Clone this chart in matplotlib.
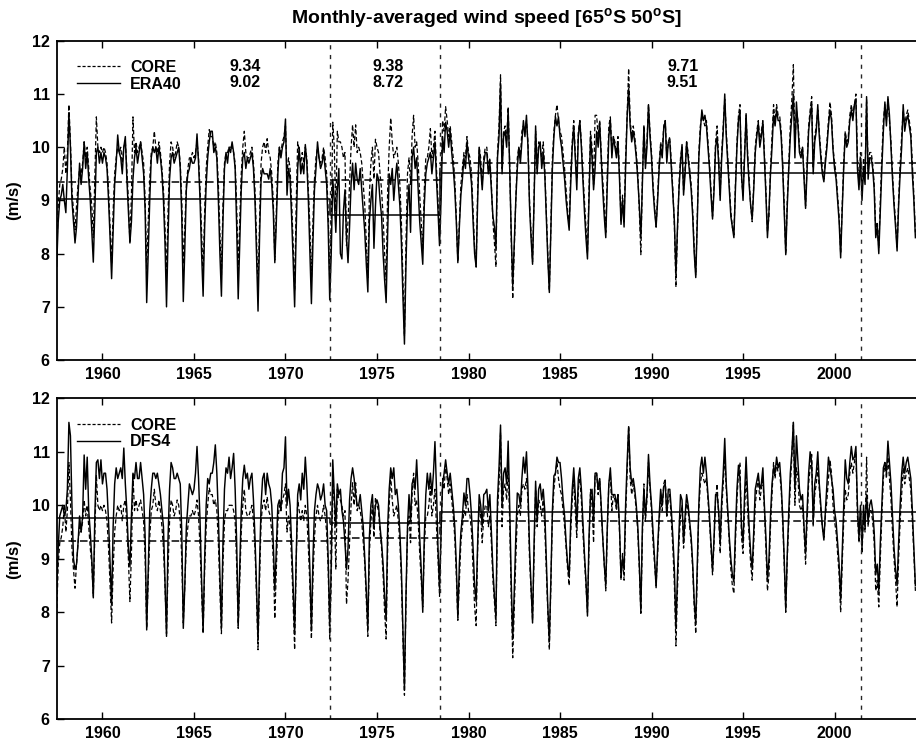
import numpy as np
import matplotlib
matplotlib.use("Agg")
import matplotlib.pyplot as plt
from matplotlib.lines import Line2D

plt.rcParams['font.family'] = ['Liberation Sans', 'DejaVu Sans']
plt.rcParams['font.weight'] = 'bold'
plt.rcParams['mathtext.fontset'] = 'custom'
plt.rcParams['mathtext.rm'] = 'Liberation Sans:bold'
plt.rcParams['mathtext.bf'] = 'Liberation Sans:bold'

# monthly series, first value at 1957.5 (Jul 1957), one row per calendar year
start_year = 1957.5
core = [
    7.95, 8.9, 9.3, 9.4, 9.6, 10.0,
    9.5, 9.9, 10.8, 10.1, 9.2, 8.8, 8.45, 8.9, 9.3, 9.6, 9.5, 9.7,
    10.1, 9.8, 10.0, 9.6, 9.2, 8.9, 8.3, 9.4, 10.57, 10.0, 9.9, 10.0,
    9.9, 10.0, 9.9, 9.7, 9.2, 8.5, 7.8, 8.8, 9.5, 9.8, 10.0, 9.9,
    10.0, 9.7, 10.0, 10.1, 9.6, 9.0, 8.2, 9.1, 10.57, 9.9, 10.1, 9.9,
    10.0, 10.1, 9.9, 9.7, 9.0, 7.7, 8.6, 9.4, 9.9, 10.0, 10.3, 10.0,
    9.9, 10.1, 9.9, 9.6, 9.2, 8.5, 7.6, 8.8, 9.7, 10.1, 10.0, 9.8,
    9.9, 10.1, 10.0, 9.7, 9.0, 7.8, 8.5, 9.3, 9.6, 9.8, 9.8, 9.9,
    9.8, 9.9, 10.1, 9.8, 9.2, 8.4, 7.6, 8.8, 9.6, 10.0, 10.33, 10.2,
    10.2, 10.0, 10.1, 9.9, 9.3, 8.4, 7.6, 8.9, 9.7, 9.9, 9.9, 10.0,
    10.0, 10.0, 9.9, 9.7, 8.9, 7.7, 8.6, 9.5, 10.0, 10.3, 9.9, 9.8,
    9.8, 9.9, 10.0, 9.7, 9.2, 8.3, 7.3, 8.6, 9.7, 10.0, 10.1, 9.9,
    10.16, 9.9, 9.8, 9.5, 9.0, 7.88, 8.8, 9.7, 10.0, 9.9, 10.1, 10.2,
    10.4, 9.5, 9.8, 9.6, 9.0, 8.2, 7.3, 8.9, 10.1, 9.9, 9.7, 9.9,
    9.7, 10.0, 9.8, 9.2, 8.5, 7.5, 8.6, 9.4, 9.8, 10.0, 9.8, 9.7,
    9.8, 10.0, 9.8, 9.5, 8.8, 7.5, 8.6, 10.47, 10.0, 8.8, 10.3, 10.1,
    10.1, 10.0, 9.8, 9.9, 8.15, 8.6, 9.3, 10.0, 10.42, 10.0, 10.42, 9.9,
    10.0, 9.9, 9.7, 9.3, 8.9, 8.2, 7.55, 9.1, 9.7, 10.0, 9.4, 10.15,
    10.0, 9.9, 9.5, 9.2, 8.7, 8.0, 7.5, 9.2, 10.0, 10.55, 10.1, 9.8,
    9.9, 10.0, 9.7, 9.3, 8.6, 7.5, 6.45, 8.2, 9.5, 9.8, 9.3, 10.2,
    10.6, 10.0, 10.1, 9.7, 9.1, 8.6, 8.1, 9.2, 9.8, 9.8, 10.0, 10.35,
    9.8, 10.0, 10.3, 9.6, 9.0, 8.3, 9.4, 10.5, 10.3, 10.76, 10.5, 10.2,
    10.4, 10.1, 9.8, 9.4, 8.7, 7.85, 8.6, 9.3, 9.6, 9.9, 9.8, 10.2,
    9.9, 9.8, 9.5, 8.8, 8.1, 7.75, 9.2, 10.0, 9.8, 9.3, 9.8, 10.0,
    10.0, 9.6, 9.8, 9.3, 8.6, 8.2, 7.75, 9.9, 10.4, 11.36, 9.6, 10.3,
    10.4, 10.1, 10.76, 9.7, 8.3, 7.15, 8.1, 9.0, 9.8, 10.0, 9.8, 10.3,
    10.4, 10.3, 10.5, 10.1, 9.0, 8.4, 7.85, 9.1, 10.3, 9.6, 10.1, 10.0,
    9.8, 10.1, 9.6, 8.8, 8.0, 7.3, 8.5, 9.8, 10.3, 10.6, 10.8, 10.5,
    10.3, 10.2, 9.9, 9.6, 9.2, 8.8, 8.5, 9.5, 10.1, 10.5, 9.9, 9.4,
    10.3, 10.5, 10.1, 9.5, 9.0, 8.5, 8.0, 9.2, 10.3, 10.0, 9.3, 10.6,
    10.6, 10.2, 10.5, 9.9, 9.4, 8.9, 8.4, 9.5, 10.4, 10.57, 9.9, 10.2,
    10.1, 9.9, 10.2, 9.5, 8.6, 9.1, 8.6, 9.8, 10.6, 11.48, 10.5, 10.2,
    10.4, 10.2, 9.9, 9.5, 8.8, 7.98, 9.4, 10.4, 9.7, 10.1, 10.8, 10.3,
    9.9, 9.3, 8.9, 8.5, 9.1, 9.7, 10.1, 9.9, 10.4, 10.5, 9.8, 10.1,
    10.2, 9.7, 9.2, 8.5, 7.37, 8.4, 9.3, 9.8, 10.0, 9.2, 9.6, 10.1,
    9.9, 9.6, 9.3, 8.8, 8.1, 7.6, 8.7, 9.9, 10.4, 10.6, 10.5, 10.4,
    10.5, 10.1, 9.7, 9.2, 8.7, 9.3, 10.1, 10.4, 9.8, 9.1, 9.9, 10.4,
    10.9, 10.3, 9.8, 9.3, 8.8, 8.5, 8.35, 9.3, 10.1, 10.6, 10.8, 9.4,
    9.1, 9.9, 10.6, 9.9, 9.4, 8.9, 8.6, 9.3, 10.0, 10.3, 10.5, 10.1,
    10.3, 10.5, 9.9, 9.2, 8.4, 8.7, 9.6, 10.2, 10.8, 10.5, 10.8, 10.6,
    10.6, 10.3, 9.7, 8.9, 8.0, 9.0, 9.7, 10.4, 10.9, 11.55, 10.0, 10.7,
    10.5, 10.0, 9.9, 10.0, 9.5, 8.9, 9.7, 10.4, 10.7, 10.95, 9.6, 10.2,
    10.4, 10.7, 10.3, 9.9, 9.6, 9.4, 9.8, 10.1, 10.5, 10.85, 10.6, 10.0,
    9.7, 9.5, 9.1, 8.7, 8.0, 8.9, 9.7, 10.3, 10.1, 10.2, 10.6, 10.8,
    10.6, 10.8, 11.0, 9.8, 9.3, 9.9, 9.1, 9.8, 9.5, 10.9, 9.6, 9.9,
    9.9, 9.7, 9.3, 8.4, 8.6, 8.1, 9.0, 9.8, 10.5, 10.8, 10.5, 10.9,
    10.5, 10.1, 9.5, 9.0, 8.6, 8.1, 9.0, 9.7, 10.2, 10.7, 10.4, 10.6,
    10.7, 10.5, 10.3, 9.7, 9.1, 8.4,
]
era40 = [
    7.76, 8.6, 9.0, 9.1, 9.3, 9.0,
    8.77, 9.6, 10.65, 10.0, 9.0, 8.6, 8.2, 8.5, 9.1, 9.7, 9.3, 9.6,
    10.1, 9.6, 9.9, 9.4, 9.0, 8.4, 7.84, 8.8, 9.9, 10.0, 9.7, 9.9,
    9.7, 9.9, 9.8, 9.6, 9.0, 8.3, 7.53, 8.4, 9.3, 9.7, 10.23, 9.9,
    9.8, 9.5, 10.0, 10.2, 9.4, 8.8, 8.2, 8.6, 9.4, 9.8, 10.0, 9.7,
    9.9, 10.1, 9.8, 9.5, 8.8, 7.08, 8.0, 9.0, 9.8, 10.0, 9.9, 10.0,
    9.7, 10.0, 9.8, 9.5, 9.0, 8.2, 7.0, 8.3, 9.4, 9.8, 9.9, 9.7,
    9.8, 9.9, 10.0, 9.6, 8.7, 7.1, 8.1, 9.2, 9.5, 9.6, 9.8, 9.7,
    9.7, 9.8, 10.25, 9.7, 9.0, 8.0, 7.2, 8.5, 9.3, 9.8, 10.1, 10.3,
    10.3, 9.9, 10.0, 9.8, 9.0, 8.0, 7.2, 8.6, 9.6, 9.9, 9.7, 10.0,
    9.9, 10.1, 9.9, 9.6, 8.5, 7.15, 8.2, 9.2, 9.8, 9.9, 9.6, 9.8,
    9.7, 9.8, 9.9, 9.6, 9.0, 8.0, 6.92, 8.3, 9.4, 9.6, 9.5, 9.5,
    9.5, 9.4, 9.6, 9.3, 8.8, 7.83, 8.6, 9.5, 10.0, 9.8, 10.0, 10.1,
    10.53, 9.1, 9.6, 9.4, 8.7, 7.9, 7.0, 8.4, 9.6, 10.0, 9.5, 9.7,
    9.5, 10.05, 9.7, 9.0, 8.0, 7.06, 8.2, 9.2, 9.6, 10.1, 9.8, 9.6,
    9.7, 9.9, 9.6, 9.3, 8.5, 7.13, 8.0, 9.4, 9.0, 8.4, 9.2, 9.6,
    8.0, 7.9, 8.8, 9.2, 8.3, 7.83, 8.5, 9.3, 9.7, 9.2, 9.7, 9.4,
    9.3, 9.6, 9.2, 8.8, 8.4, 7.8, 7.28, 8.6, 9.0, 9.3, 8.1, 8.9,
    9.5, 9.4, 9.0, 8.7, 8.0, 7.5, 7.08, 8.4, 9.5, 9.3, 9.6, 9.0,
    9.4, 9.7, 9.3, 8.9, 8.2, 7.2, 6.3, 7.8, 8.9, 9.3, 8.4, 9.8,
    10.0, 9.6, 9.8, 9.2, 8.6, 8.2, 7.8, 8.9, 9.5, 9.7, 9.8, 9.9,
    9.5, 9.8, 10.1, 9.4, 8.8, 8.15, 9.0, 10.2, 9.9, 10.47, 10.3, 10.0,
    10.3, 9.9, 9.6, 9.2, 8.6, 7.83, 8.5, 9.1, 9.4, 9.8, 9.6, 10.1,
    9.8, 9.6, 9.3, 8.6, 8.0, 7.75, 9.0, 10.0, 9.6, 9.2, 9.7, 9.9,
    9.9, 9.5, 9.7, 9.2, 8.7, 8.5, 8.1, 9.8, 10.2, 11.2, 9.5, 10.2,
    10.3, 10.0, 10.7, 9.6, 8.4, 7.4, 8.2, 9.0, 9.6, 10.0, 9.7, 10.1,
    10.5, 10.2, 10.6, 10.0, 8.9, 8.3, 7.8, 9.0, 10.4, 9.5, 10.0, 10.1,
    9.6, 9.9, 9.5, 8.7, 7.9, 7.27, 8.4, 9.6, 10.2, 10.57, 10.4, 10.57,
    10.2, 10.0, 9.7, 9.4, 9.0, 8.7, 8.44, 9.3, 10.0, 10.4, 9.8, 9.2,
    10.2, 10.5, 10.0, 9.4, 8.8, 8.3, 7.9, 9.0, 10.2, 9.8, 9.2, 9.6,
    10.3, 10.0, 10.47, 9.8, 9.2, 8.7, 8.3, 9.3, 10.2, 10.5, 9.8, 10.2,
    10.0, 9.8, 10.1, 9.4, 8.55, 9.0, 8.5, 9.6, 10.57, 11.1, 10.4, 10.1,
    10.3, 10.1, 9.8, 9.4, 8.9, 8.3, 9.3, 10.4, 9.6, 10.0, 10.8, 10.2,
    9.8, 9.2, 8.8, 8.5, 9.0, 9.6, 10.0, 9.8, 10.35, 10.5, 9.7, 10.1,
    10.1, 9.6, 9.1, 8.6, 7.6, 8.5, 9.2, 9.7, 10.05, 9.1, 9.5, 10.1,
    9.8, 9.5, 9.2, 8.7, 8.0, 7.55, 8.6, 9.8, 10.3, 10.7, 10.5, 10.6,
    10.4, 10.0, 9.6, 9.1, 8.65, 9.2, 10.0, 10.2, 9.7, 9.0, 9.8, 10.3,
    11.0, 10.2, 9.7, 9.2, 8.7, 8.5, 8.3, 9.2, 10.0, 10.5, 10.7, 9.5,
    9.0, 9.8, 10.63, 9.8, 9.3, 8.9, 8.65, 9.2, 9.9, 10.2, 10.45, 10.0,
    10.2, 10.47, 9.8, 9.1, 8.3, 8.8, 9.5, 10.0, 10.6, 10.4, 10.7, 10.5,
    10.5, 10.2, 9.6, 8.8, 7.98, 8.9, 9.6, 10.2, 10.6, 11.0, 9.8, 10.85,
    10.4, 9.9, 9.8, 10.0, 9.4, 8.85, 9.6, 10.3, 10.6, 10.8, 9.5, 10.1,
    10.3, 10.8, 10.2, 9.8, 9.5, 9.35, 9.7, 10.0, 10.4, 10.7, 10.5, 9.95,
    9.6, 9.4, 9.0, 8.6, 7.92, 8.8, 9.6, 10.25, 10.0, 10.1, 10.5, 10.7,
    10.5, 10.8, 10.9, 9.6, 9.2, 9.8, 9.0, 9.6, 9.3, 10.95, 9.4, 9.8,
    9.8, 9.6, 9.2, 8.3, 8.5, 8.0, 8.8, 9.6, 10.3, 10.85, 10.4, 10.95,
    10.6, 10.0, 9.4, 8.9, 8.5, 8.05, 8.9, 9.5, 10.0, 10.8, 10.3, 10.5,
    10.6, 10.4, 10.2, 9.5, 9.0, 8.3,
]
dfs4 = [
    8.4, 9.2, 9.8, 9.9, 10.0, 9.8,
    9.9, 10.3, 11.55, 11.3, 10.0, 9.0, 8.8, 8.9, 9.3, 9.8, 9.5, 9.8,
    10.94, 10.3, 10.9, 9.9, 9.5, 9.0, 8.27, 9.8, 10.8, 10.85, 10.5, 10.85,
    10.4, 10.6, 10.6, 10.3, 9.7, 8.9, 8.14, 9.6, 10.4, 10.7, 10.5, 10.6,
    10.7, 10.5, 11.07, 10.4, 9.9, 9.2, 8.85, 9.8, 10.6, 10.5, 10.8, 10.5,
    10.5, 10.8, 10.5, 10.2, 9.4, 7.67, 8.8, 9.9, 10.3, 10.6, 10.6, 10.5,
    10.6, 10.4, 10.2, 9.9, 9.6, 8.6, 7.55, 9.4, 10.3, 10.8, 10.7, 10.5,
    10.5, 10.6, 10.5, 10.4, 9.5, 7.7, 8.5, 9.6, 10.0, 10.4, 10.3, 10.2,
    10.3, 10.6, 11.1, 10.5, 9.7, 8.6, 7.65, 9.0, 10.0, 10.5, 10.4, 10.6,
    10.6, 10.8, 11.13, 10.6, 9.8, 8.7, 7.7, 9.3, 10.3, 10.7, 10.6, 10.9,
    10.5, 10.7, 10.97, 10.3, 9.3, 7.75, 8.8, 9.9, 10.5, 10.75, 10.5, 10.6,
    10.3, 10.5, 10.6, 10.1, 9.4, 8.5, 7.48, 8.9, 10.0, 10.5, 10.6, 10.2,
    10.6, 10.4, 10.3, 10.0, 9.3, 8.4, 9.2, 10.0, 10.1, 9.9, 10.6, 10.7,
    11.28, 10.0, 10.3, 10.0, 9.3, 8.5, 7.6, 9.0, 10.2, 10.4, 10.1, 10.6,
    10.3, 10.9, 10.4, 9.7, 8.8, 7.65, 9.0, 9.9, 10.2, 10.4, 10.3, 10.1,
    10.2, 10.4, 10.0, 9.9, 9.0, 7.75, 8.9, 10.85, 10.2, 9.6, 10.4, 10.2,
    10.3, 9.9, 9.7, 9.3, 8.8, 9.2, 10.1, 10.5, 10.7, 10.5, 10.2, 10.0,
    10.0, 10.2, 9.9, 9.6, 9.0, 8.4, 7.7, 9.4, 10.0, 10.2, 9.6, 10.0,
    10.1, 10.0, 9.6, 9.3, 8.9, 8.3, 7.85, 9.6, 10.3, 10.7, 10.5, 10.7,
    10.2, 10.3, 10.0, 9.5, 8.8, 7.7, 6.55, 8.3, 9.6, 10.2, 9.7, 10.4,
    10.5, 10.3, 10.85, 10.2, 9.4, 8.8, 8.0, 9.4, 10.2, 10.6, 10.3, 10.6,
    10.2, 10.6, 11.19, 10.3, 9.2, 8.45, 9.5, 10.4, 10.6, 10.85, 10.6, 10.4,
    10.6, 10.3, 10.0, 9.6, 8.9, 7.9, 8.9, 9.5, 9.8, 10.23, 10.0, 10.5,
    10.5, 10.2, 9.8, 9.2, 8.5, 8.2, 9.3, 10.2, 10.0, 9.6, 10.2, 10.23,
    10.3, 9.9, 10.2, 9.5, 8.8, 8.3, 7.9, 10.1, 10.7, 11.5, 10.0, 10.6,
    10.7, 10.4, 11.2, 10.0, 8.6, 7.5, 8.4, 9.4, 10.23, 10.2, 10.0, 10.5,
    10.9, 10.6, 11.0, 10.3, 9.2, 8.5, 7.8, 9.3, 10.45, 9.7, 10.3, 10.4,
    10.1, 10.3, 9.9, 9.0, 8.1, 7.45, 8.6, 9.9, 10.55, 10.6, 10.9, 10.8,
    10.8, 10.5, 10.1, 9.8, 9.3, 8.9, 8.67, 9.7, 10.3, 10.7, 10.2, 9.6,
    10.5, 10.7, 10.3, 9.7, 9.1, 8.6, 7.93, 9.4, 10.2, 10.3, 9.7, 10.6,
    10.6, 10.3, 10.5, 10.0, 9.4, 8.9, 8.5, 9.6, 10.4, 10.7, 10.2, 10.2,
    10.2, 10.0, 10.2, 9.6, 8.65, 9.0, 8.8, 10.0, 10.8, 11.47, 10.7, 10.4,
    10.5, 10.3, 10.0, 9.6, 8.9, 8.0, 9.6, 10.3, 9.8, 10.2, 10.95, 10.4,
    10.0, 9.5, 9.0, 8.46, 9.2, 9.8, 10.3, 10.0, 10.35, 10.4, 9.8, 10.3,
    10.3, 9.9, 9.4, 8.8, 7.7, 8.7, 9.5, 10.2, 10.1, 9.3, 9.8, 10.2,
    10.0, 9.7, 9.4, 8.9, 8.2, 7.8, 8.9, 10.0, 10.7, 10.9, 10.6, 10.9,
    10.6, 10.2, 9.8, 9.3, 8.77, 9.4, 10.2, 10.2, 9.9, 9.3, 10.1, 10.6,
    11.25, 10.4, 9.9, 9.4, 9.0, 8.7, 8.57, 9.5, 10.3, 10.75, 10.5, 9.6,
    9.3, 10.2, 10.9, 10.2, 9.6, 9.1, 8.8, 9.5, 10.3, 10.45, 10.6, 10.3,
    10.4, 10.7, 10.0, 9.4, 8.6, 9.0, 9.8, 10.4, 10.7, 10.6, 10.9, 10.7,
    10.8, 10.4, 9.8, 9.0, 8.05, 9.1, 9.9, 10.6, 11.0, 11.55, 10.3, 11.3,
    10.8, 10.3, 10.1, 10.2, 9.6, 9.1, 9.9, 10.6, 11.0, 10.8, 9.7, 10.4,
    10.6, 11.0, 10.4, 10.0, 9.6, 9.35, 9.9, 10.4, 10.9, 10.7, 10.5, 10.3,
    9.9, 9.7, 9.3, 8.9, 8.23, 9.1, 10.0, 10.85, 10.5, 10.4, 10.8, 11.1,
    10.85, 10.9, 11.1, 10.0, 9.4, 10.0, 9.2, 10.0, 9.6, 10.2, 9.7, 10.0,
    10.1, 9.9, 9.5, 8.7, 8.9, 8.4, 9.3, 10.0, 10.7, 10.8, 10.6, 11.2,
    10.8, 10.4, 9.8, 9.2, 8.8, 8.5, 9.3, 10.0, 10.6, 10.9, 10.6, 10.8,
    10.9, 10.7, 10.5, 9.9, 9.2, 8.5,
]

# period boundaries and period means
breaks = [1957.5, 1972.45, 1978.45, 2004.45]
core_means = [9.34, 9.38, 9.71]
era40_means = [9.02, 8.72, 9.51]
dfs4_means = [9.77, 9.66, 9.87]
vlines = [1972.45, 1978.45, 2001.42]
label_x = [1967.8, 1975.6, 1991.7]

t = start_year + np.arange(len(core)) / 12.0

fig = plt.figure(figsize=(9.16, 7.47), dpi=100)
ax1 = fig.add_axes([0.0619, 0.518, 0.9381, 0.4274])
ax2 = fig.add_axes([0.0619, 0.0371, 0.9381, 0.4297])

fs = 11.5
panels = [(ax1, era40, era40_means, 'ERA40'), (ax2, dfs4, dfs4_means, 'DFS4')]
for ax, other, other_means, name in panels:
    ax.plot(t, core, color='black', lw=0.9, dashes=(3.5, 2.0))
    ax.plot(t, other, color='black', lw=1.05)
    ax.plot(breaks, core_means + [core_means[-1]], drawstyle='steps-post',
            color='black', lw=1.1, dashes=(5, 2.5))
    ax.plot(breaks, other_means + [other_means[-1]], drawstyle='steps-post',
            color='black', lw=1.1)
    for xv in vlines:
        ax.axvline(xv, color='0.15', lw=1.0, dashes=(3, 4))

    ax.set_xlim(1957.5, 2004.45)
    ax.set_ylim(6, 12)
    ax.set_xticks(np.arange(1960, 2001, 5))
    ax.set_yticks(np.arange(6, 13, 1))
    ax.tick_params(direction='in', top=True, right=False, length=5,
                   width=1.0, labelsize=fs, pad=5)
    for lab in ax.get_xticklabels() + ax.get_yticklabels():
        lab.set_fontweight('bold')
    ax.spines['right'].set_visible(False)
    for s in ['left', 'top', 'bottom']:
        ax.spines[s].set_linewidth(1.3)
    ax.set_ylabel('(m/s)', fontsize=12, fontweight='bold')
    ax.yaxis.set_label_coords(-0.041, 0.5)

    handles = [Line2D([], [], color='black', lw=0.9, dashes=(2.5, 1.5)),
               Line2D([], [], color='black', lw=1.0)]
    ax.legend(handles, ['CORE', name], loc='upper left',
              bbox_to_anchor=(0.0236, 0.94), frameon=False,
              borderpad=0, borderaxespad=0, handlelength=2.7,
              handletextpad=0.62, labelspacing=0.12,
              prop={'weight': 'bold', 'size': fs})

# period means written in the upper panel
for xv, cm, em in zip(label_x, core_means, era40_means):
    ax1.text(xv, 11.51, f'{cm:.2f}', ha='center', va='center',
             fontsize=fs, fontweight='bold')
    ax1.text(xv, 11.21, f'{em:.2f}', ha='center', va='center',
             fontsize=fs, fontweight='bold')

ax1.set_title(r'Monthly-averaged wind speed [65$^\mathbf{o}$S 50$^\mathbf{o}$S]',
              fontsize=14, fontweight='bold', pad=12)

fig.savefig('out.png', dpi=100)
